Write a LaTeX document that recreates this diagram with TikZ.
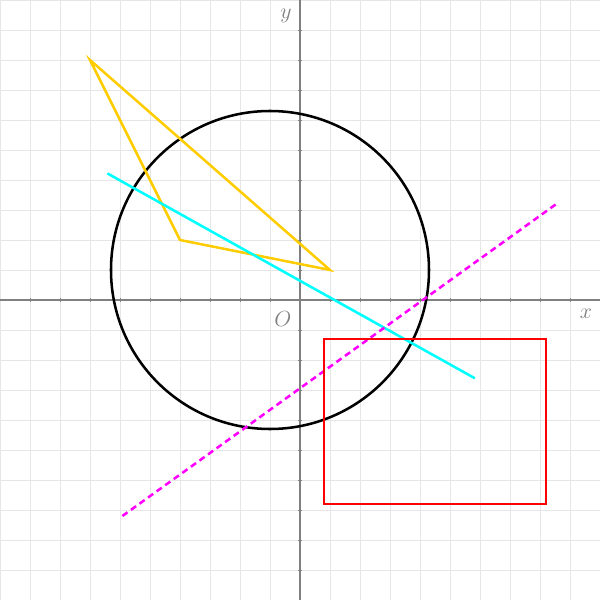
\documentclass[tikz,border=0pt]{standalone}
\usepackage{xcolor}
\usepackage{tikz}
\definecolor{gridgray}{HTML}{E6E6E6}
\definecolor{axisgray}{HTML}{808080}
\definecolor{triyellow}{HTML}{FFCC00}
\definecolor{linecyan}{HTML}{00FFFF}
\definecolor{linemagenta}{HTML}{FF00FF}
\definecolor{boxred}{HTML}{FF0000}
\newcommand{\LabelFont}{\fontsize{21}{25}\selectfont}

\begin{document}
\begin{tikzpicture}[x=1cm,y=1cm]
          \useasboundingbox (-10,-10) rectangle (10,10);
          \fill[white] (-10,-10) rectangle (10,10);
          \draw[gridgray,line width=0.9pt] (-10,-10) grid (10,10);
          \draw[axisgray,line width=1.8pt] (-10,0) -- (10,0);
          \draw[axisgray,line width=1.8pt] (0,-10) -- (0,10);
          \foreach \t in {-9,...,9}
            {\draw[axisgray,line width=0.8pt] (\t,-0.08) -- (\t,0.08);
             \draw[axisgray,line width=0.8pt] (-0.08,\t) -- (0.08,\t);}
          \node[axisgray] (xlabel) at (9.53,-0.45) {\LabelFont $x$};
          \node[axisgray] (ylabel) at (-0.47,9.47) {\LabelFont $y$};
          \node[axisgray] (origin) at (-0.57,-0.62) {\LabelFont $O$};
          \draw[black,line width=2.4pt] (-1,1) circle (5.3);
          \draw[triyellow,line width=2.4pt,line join=miter] (-7,8) -- (-4,2) -- (1,1) -- cycle;
          \draw[linecyan,line width=2.4pt] (-6.42,4.22) -- (5.83,-2.61);
          \draw[linemagenta,line width=2.4pt,dash pattern=on 6pt off 4pt] (-5.92,-7.2) -- (8.53,3.19);
          \draw[boxred,line width=1.9pt] (0.79,-1.29) rectangle (8.21,-6.79);
        \end{tikzpicture}
\end{document}
